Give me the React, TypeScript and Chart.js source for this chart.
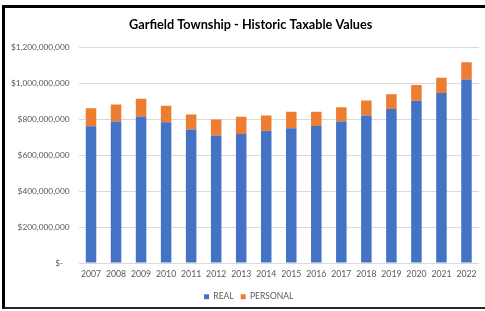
import React, { useEffect, useRef } from "react";
import { Chart, registerables } from "chart.js";

Chart.register(...registerables);

const chartTitle = "Garfield Township - Historic Taxable Values";
const years = ["2007", "2008", "2009", "2010", "2011", "2012", "2013", "2014", "2015", "2016", "2017", "2018", "2019", "2020", "2021", "2022"];
const realValues = [760000000, 787000000, 815000000, 783000000, 742000000, 708000000, 718000000, 736000000, 749000000, 762000000, 787000000, 820000000, 856000000, 902000000, 945000000, 1020000000];
const personalValues = [101000000, 95000000, 99000000, 91000000, 84000000, 90000000, 95000000, 84000000, 92000000, 79000000, 80000000, 84000000, 82000000, 88000000, 86000000, 97000000];
const seriesNames = ["REAL", "PERSONAL"];
const seriesColors = ["#4472C4", "#ED7D31"];
const yMax = 1200000000;
const yStep = 200000000;

const FONT = "Lato, 'Open Sans', sans-serif";
const TEXT = "#595959";

function fmt(v: number): string {
  if (v === 0) return "$-   ";
  return "$" + v.toLocaleString("en-US");
}

const shiftBlocks = {
  id: "shiftBlocks",
  afterLayout(chart: any) {
    const t = chart.titleBlock;
    if (t) {
      t.left += 8.7;
      t.right += 8.7;
    }
    const l = chart.legend;
    if (l) {
      l.left += 6.7;
      l.right += 6.7;
    }
  },
};

export default function App() {
  const ref = useRef<HTMLCanvasElement | null>(null);

  useEffect(() => {
    document.body.style.margin = "0";
    const ctx = ref.current;
    if (!ctx) return;
    const chart = new Chart(ctx, {
      type: "bar",
      data: {
        labels: years,
        datasets: [
          { label: seriesNames[0], data: realValues, backgroundColor: seriesColors[0], borderWidth: 0 },
          { label: seriesNames[1], data: personalValues, backgroundColor: seriesColors[1], borderWidth: 0 },
        ],
      },
      options: {
        animation: false,
        responsive: false,
        maintainAspectRatio: false,
        layout: { padding: { top: 0, bottom: 0, left: 0, right: 17 } },
        datasets: { bar: { categoryPercentage: 1, barPercentage: 0.42 } },
        plugins: {
          title: {
            display: true,
            text: chartTitle,
            color: "#000",
            font: { family: FONT, size: 12.7, weight: "bold" },
            padding: { top: 9, bottom: 15 },
          },
          legend: {
            position: "bottom",
            labels: {
              color: TEXT,
              font: { family: FONT, size: 8.5 },
              boxWidth: 5,
              boxHeight: 5,
              padding: 7,
            },
          },
          tooltip: { enabled: false },
        },
        scales: {
          x: {
            stacked: true,
            grid: { display: false, drawTicks: false },
            border: { display: false },
            ticks: { color: TEXT, font: { family: FONT, size: 8.7 }, padding: 6, maxRotation: 0, autoSkip: false },
          },
          y: {
            stacked: true,
            min: 0,
            max: yMax,
            grid: { color: "#d9d9d9", lineWidth: 1, drawTicks: false },
            border: { display: false },
            ticks: {
              stepSize: yStep,
              color: TEXT,
              font: { family: FONT, size: 8.3 },
              padding: 9,
              callback: (v: any) => fmt(Number(v)),
            },
            afterFit: (s: any) => {
              s.width = 73.5;
            },
          },
        },
      },
      plugins: [shiftBlocks],
    });
    return () => chart.destroy();
  }, []);

  return (
    <div style={{ position: "absolute", left: 0, top: 0, width: 485, height: 311, overflow: "hidden", background: "#fff" }}>
      <div
        style={{
          position: "absolute",
          left: 2,
          top: 5,
          width: 600,
          height: 304,
          boxSizing: "border-box",
          borderTop: "3px solid #000",
          borderLeft: "3px solid #000",
          borderBottom: "2px solid #262626",
        }}
      />
      <canvas ref={ref} width={491} height={303} style={{ position: "absolute", left: 5, top: 8, width: 491, height: 303 }} />
    </div>
  );
}
